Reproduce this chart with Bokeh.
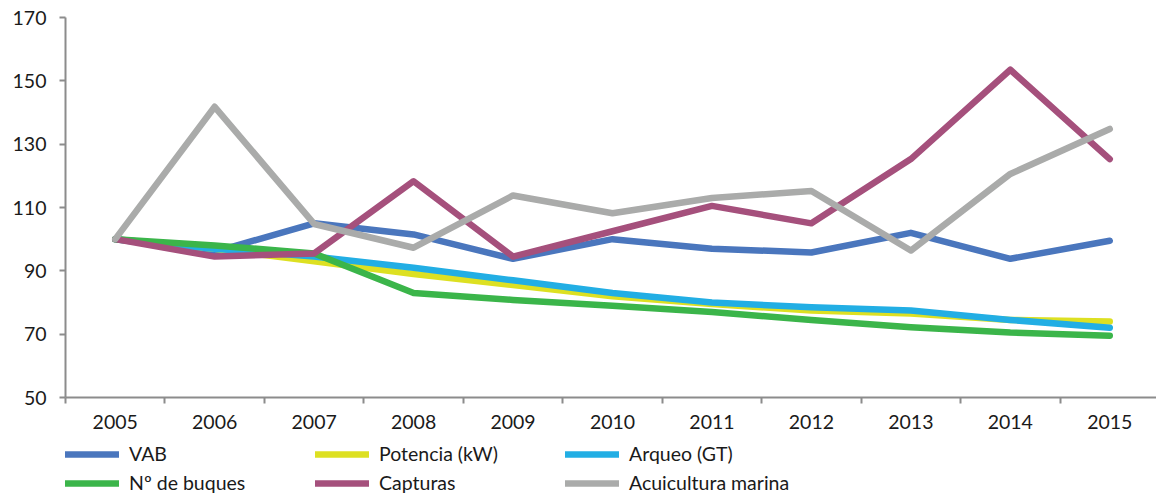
from bokeh.plotting import figure
from bokeh.models import Range1d, FixedTicker, Legend, LegendItem
from bokeh.layouts import column
from bokeh.embed import file_html
from bokeh.resources import INLINE

years = ["2005", "2006", "2007", "2008", "2009", "2010", "2011", "2012", "2013", "2014", "2015"]
vab = [100, 96, 105, 101.5, 93.8, 100, 97, 95.8, 102, 93.8, 99.5]
potencia = [100, 97, 93, 89, 85.5, 82, 79.5, 77.5, 76.5, 74.5, 74]
arqueo = [100, 97, 94.5, 91, 87, 83, 80, 78.5, 77.5, 74.5, 72]
buques = [100, 98, 95.5, 83, 80.8, 79, 77, 74.5, 72.2, 70.5, 69.5]
capturas = [100, 94.5, 95.5, 118.3, 94.5, 102.5, 110.5, 105, 125.3, 153.5, 125.3]
acuicultura = [100, 141.8, 104.8, 97.3, 113.8, 108.2, 113, 115.2, 96.4, 120.6, 134.8]

series = [
    ("VAB", vab, "#4a76bd"),
    ("Potencia (kW)", potencia, "#dde022"),
    ("Arqueo (GT)", arqueo, "#22aee4"),
    ("Nº de buques", buques, "#3bb54a"),
    ("Capturas", capturas, "#a5507c"),
    ("Acuicultura marina", acuicultura, "#aaabaa"),
]

FONT = "Lato"
FS = "19.5px"
xs = list(range(len(years)))

p = figure(frame_width=1094, frame_height=380, output_backend="svg", toolbar_location=None,
           x_range=Range1d(-0.5, len(years) - 0.5), y_range=Range1d(50, 170),
           min_border_left=62, min_border_right=0, min_border_top=17, min_border_bottom=0)
p.xgrid.visible = False
p.ygrid.visible = False
p.outline_line_color = None

for name, vals, color in series:
    p.line(xs, vals, line_color=color, line_width=6.5, line_cap="round", line_join="round")

# x axis
p.xaxis.ticker = FixedTicker(ticks=xs, minor_ticks=[i - 0.5 for i in range(len(years) + 1)])
p.xaxis.major_label_overrides = {i: y for i, y in enumerate(years)}
p.xaxis.major_tick_out = 0
p.xaxis.major_tick_in = 0
p.xaxis.minor_tick_out = 6
p.xaxis.minor_tick_in = 0
p.xaxis.minor_tick_line_color = "#8c8c8c"
p.xaxis.minor_tick_line_width = 2
p.xaxis.axis_line_color = "#8c8c8c"
p.xaxis.axis_line_width = 2
p.xaxis.major_label_standoff = 11
p.xaxis.major_label_text_font = FONT
p.xaxis.major_label_text_font_size = FS
p.xaxis.major_label_text_color = "#1a1a1a"

# y axis
p.yaxis.ticker = FixedTicker(ticks=list(range(50, 171, 20)))
p.yaxis.minor_tick_line_color = None
p.yaxis.major_tick_out = 6
p.yaxis.major_tick_in = 0
p.yaxis.major_tick_line_color = "#8c8c8c"
p.yaxis.major_tick_line_width = 2
p.yaxis.axis_line_color = "#8c8c8c"
p.yaxis.axis_line_width = 2
p.yaxis.major_label_standoff = 13
p.yaxis.major_label_text_font = FONT
p.yaxis.major_label_text_font_size = FS
p.yaxis.major_label_text_color = "#1a1a1a"

# legend in a separate strip below the chart (its lines lie outside the strip's view)
lf = figure(width=1156, height=63, output_backend="svg", toolbar_location=None,
            x_axis_location=None, y_axis_location=None,
            min_border_left=65, min_border_right=0, min_border_top=0, min_border_bottom=0,
            x_range=Range1d(1000, 1001), y_range=Range1d(1000, 1001))
lf.grid.visible = False
lf.outline_line_color = None
items = []
for name, vals, color in series:
    r = lf.line(xs, vals, line_color=color, line_width=6.5, line_cap="round")
    items.append(LegendItem(label=name, renderers=[r]))
legend = Legend(items=items, ncols=3, orientation="horizontal", location="bottom_left",
                glyph_width=54, glyph_height=22, label_height=22, label_standoff=10,
                label_width=180, spacing=6, padding=0, margin=0, border_line_alpha=0,
                background_fill_alpha=0, label_text_font=FONT,
                label_text_font_size=FS, label_text_color="#1a1a1a")
lf.add_layout(legend, "center")

layout = column(p, lf, spacing=0)
open("out.html", "w").write(file_html(layout, INLINE))
